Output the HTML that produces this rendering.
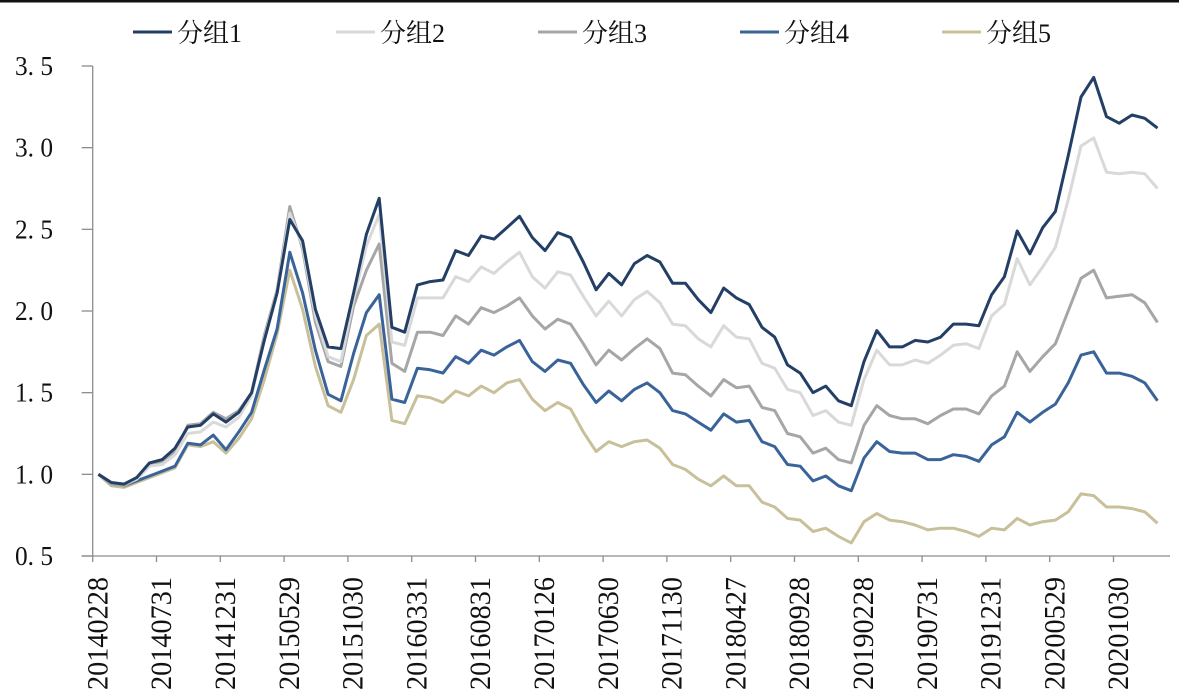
<!DOCTYPE html>
<html><head><meta charset="utf-8"><style>
html,body{margin:0;padding:0;background:#fff;}
svg{display:block;}
</style></head><body>
<svg id="chart" width="1179" height="696" xmlns="http://www.w3.org/2000/svg">
<rect x="0" y="0" width="1179" height="696" fill="#fff"/>
<rect x="0" y="0" width="1179" height="2.5" fill="#111"/>
<g id="legend"></g>
<g id="grid"></g>
<g id="series"></g>
</svg>
<script>
const seriesNames = ["分组1","分组2","分组3","分组4","分组5"];
const seriesColors = ["#243f66","#d9d9d9","#a6a6a6","#3a6499","#c8c09a"];
const xLabels = ["20140228","20140731","20141231","20150529","20151030","20160331","20160831","20170126","20170630","20171130","20180427","20180928","20190228","20190731","20191231","20200529","20201030"];
const yTicks = [0.5,1.0,1.5,2.0,2.5,3.0,3.5];
const yTickLabels = ["0. 5","1. 0","1. 5","2. 0","2. 5","3. 0","3. 5"];
const group1 = [1.00,0.95,0.94,0.98,1.07,1.09,1.16,1.29,1.30,1.37,1.32,1.38,1.50,1.82,2.11,2.56,2.43,2.01,1.78,1.77,2.11,2.47,2.69,1.90,1.87,2.16,2.18,2.19,2.37,2.34,2.46,2.44,2.51,2.58,2.45,2.37,2.48,2.45,2.30,2.13,2.23,2.16,2.29,2.34,2.30,2.17,2.17,2.07,1.99,2.14,2.08,2.04,1.90,1.84,1.67,1.62,1.50,1.54,1.45,1.42,1.69,1.88,1.78,1.78,1.82,1.81,1.84,1.92,1.92,1.91,2.10,2.21,2.49,2.35,2.51,2.61,2.95,3.31,3.43,3.19,3.15,3.20,3.18,3.12];
const group2 = [1.00,0.95,0.94,0.97,1.05,1.06,1.12,1.25,1.26,1.32,1.29,1.35,1.48,1.83,2.12,2.60,2.40,1.97,1.72,1.69,2.07,2.40,2.59,1.81,1.79,2.08,2.08,2.08,2.21,2.18,2.27,2.23,2.30,2.36,2.21,2.14,2.24,2.22,2.09,1.97,2.06,1.97,2.07,2.12,2.05,1.92,1.91,1.83,1.78,1.91,1.84,1.83,1.68,1.65,1.52,1.50,1.36,1.39,1.32,1.30,1.58,1.76,1.67,1.67,1.70,1.68,1.73,1.79,1.80,1.77,1.97,2.04,2.32,2.16,2.27,2.39,2.68,3.01,3.06,2.85,2.84,2.85,2.84,2.75];
const group3 = [1.00,0.94,0.93,0.97,1.06,1.08,1.14,1.30,1.31,1.38,1.34,1.39,1.50,1.85,2.13,2.64,2.38,1.93,1.69,1.66,2.03,2.25,2.41,1.68,1.63,1.87,1.87,1.85,1.97,1.92,2.02,1.99,2.03,2.08,1.97,1.89,1.95,1.92,1.80,1.67,1.76,1.70,1.77,1.83,1.77,1.62,1.61,1.54,1.48,1.58,1.53,1.54,1.41,1.39,1.25,1.23,1.13,1.16,1.09,1.07,1.30,1.42,1.36,1.34,1.34,1.31,1.36,1.40,1.40,1.37,1.48,1.54,1.75,1.63,1.72,1.80,2.00,2.20,2.25,2.08,2.09,2.10,2.05,1.93];
const group4 = [1.00,0.95,0.93,0.96,0.99,1.02,1.05,1.19,1.18,1.24,1.15,1.26,1.38,1.64,1.89,2.36,2.11,1.76,1.49,1.45,1.74,1.99,2.10,1.46,1.44,1.65,1.64,1.62,1.72,1.68,1.76,1.73,1.78,1.82,1.69,1.63,1.70,1.68,1.55,1.44,1.51,1.45,1.52,1.56,1.50,1.39,1.37,1.32,1.27,1.37,1.32,1.33,1.20,1.17,1.06,1.05,0.96,0.99,0.93,0.90,1.10,1.20,1.14,1.13,1.13,1.09,1.09,1.12,1.11,1.08,1.18,1.23,1.38,1.32,1.38,1.43,1.56,1.73,1.75,1.62,1.62,1.60,1.56,1.45];
const group5 = [1.00,0.93,0.92,0.95,0.98,1.01,1.04,1.18,1.17,1.20,1.13,1.22,1.34,1.58,1.86,2.25,2.01,1.66,1.42,1.38,1.58,1.85,1.92,1.33,1.31,1.48,1.47,1.44,1.51,1.48,1.54,1.50,1.56,1.58,1.46,1.39,1.44,1.40,1.26,1.14,1.20,1.17,1.20,1.21,1.16,1.06,1.03,0.97,0.93,0.99,0.93,0.93,0.83,0.80,0.73,0.72,0.65,0.67,0.62,0.58,0.71,0.76,0.72,0.71,0.69,0.66,0.67,0.67,0.65,0.62,0.67,0.66,0.73,0.69,0.71,0.72,0.77,0.88,0.87,0.80,0.80,0.79,0.77,0.70];
const allSeries = [group1,group2,group3,group4,group5];

const NS="http://www.w3.org/2000/svg";
const X0=92.7, CAT=12.76, YTOP=66, YBOT=556, VMIN=0.5, VMAX=3.5;
function xPos(i){return X0+CAT*(i+0.45);}
function yPos(v){return YBOT-(v-VMIN)/(VMAX-VMIN)*(YBOT-YTOP);}
function mk(tag,attrs,parent){const e=document.createElementNS(NS,tag);for(const k in attrs)e.setAttribute(k,attrs[k]);parent.appendChild(e);return e;}

const grid=document.getElementById('grid');
const n=group1.length;
const ax=mk('line',{x1:X0,y1:YTOP,x2:X0,y2:YBOT,stroke:'#8c8c8c','stroke-width':1.3},grid);


const bx=mk('line',{x1:X0-11,y1:YBOT,x2:1170,y2:YBOT,stroke:'#8c8c8c','stroke-width':1.3},grid);


yTicks.forEach((v,k)=>{
  const y=yPos(v);
  const t=mk('line',{x1:X0-11,y1:y,x2:X0,y2:y,stroke:'#8c8c8c','stroke-width':1.3},grid);
  
  
  const tx=mk('text',{x:15,y:y+9,'font-family':'Liberation Serif, serif','font-size':27,fill:'#111',textLength:38,lengthAdjust:'spacingAndGlyphs'},grid);
  tx.textContent=yTickLabels[k];
  
  
});
for(let j=0;j*5<=n;j++){
  const x=X0+CAT*5*j;
  if(x>1170)break;
  const t=mk('line',{x1:x,y1:YBOT,x2:x,y2:YBOT+6,stroke:'#8c8c8c','stroke-width':1.3},grid);
  
  
}
xLabels.forEach((lab,j)=>{
  const x=xPos(j*5)+9;
  const tx=mk('text',{x:0,y:0,transform:`translate(${x},690) rotate(-90)`,'font-family':'Liberation Serif, serif','font-size':30,fill:'#111',textLength:113,lengthAdjust:'spacingAndGlyphs'},grid);
  tx.textContent=lab;
  
  
});

const sg=document.getElementById('series');
for(let s=allSeries.length-1;s>=0;s--){
  const d=allSeries[s].map((v,i)=>(i?'L':'M')+xPos(i).toFixed(1)+','+yPos(v).toFixed(1)).join(' ');
  const p=mk('path',{d:d,fill:'none',stroke:seriesColors[s],'stroke-width':3,'stroke-linejoin':'round'},sg);
  
  
}

const lg=document.getElementById('legend');
const legX=[133,336,538,740,942];
seriesNames.forEach((nm,s)=>{
  const g=mk('g',{},lg);
  
  
  const l=mk('line',{x1:legX[s],y1:32,x2:legX[s]+39,y2:32,stroke:seriesColors[s],'stroke-width':3},g);
  
  
  const t=mk('text',{x:legX[s]+44,y:42,'font-family':'Liberation Serif, Noto Serif CJK SC, serif','font-size':26,fill:'#111'},g);
  t.textContent=nm;
  
  
});
</script>
</body></html>
